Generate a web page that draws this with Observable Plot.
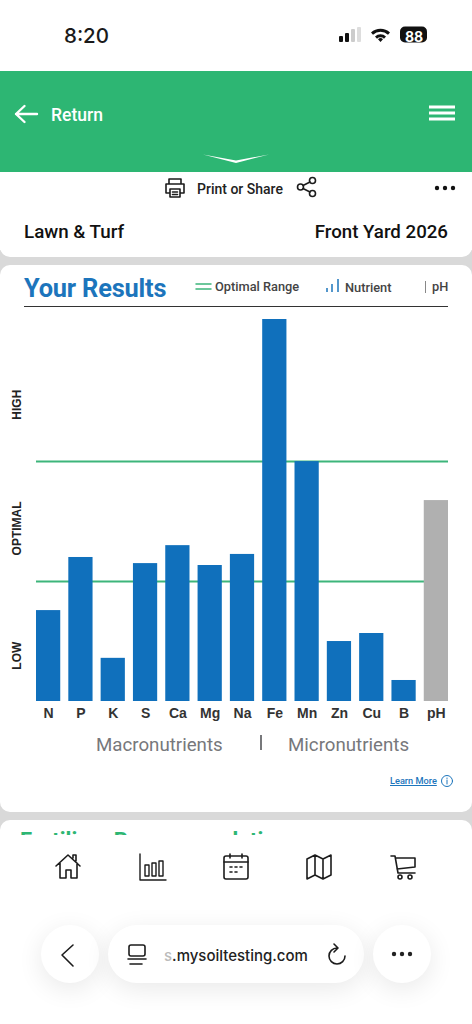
<!DOCTYPE html>
<html><head><meta charset="utf-8">
<script src="https://cdn.jsdelivr.net/npm/d3@7"></script>
<script src="https://cdn.jsdelivr.net/npm/@observablehq/plot@0.6"></script>
<style>
html,body{margin:0;padding:0;background:#fff;}
#page{position:relative;width:472px;height:1024px;overflow:hidden;background:#fff;font-family:Roboto,sans-serif;}
.b{position:absolute;}
.t{position:absolute;white-space:nowrap;line-height:1;}
svg.i{position:absolute;overflow:visible;fill:none;stroke:#1c1c1c;stroke-width:1.6;stroke-linecap:round;stroke-linejoin:round;}
#chart{position:absolute;left:0;top:310px;}
.pill{position:absolute;background:#fff;border-radius:29px;height:58px;top:925px;box-shadow:0 6px 26px rgba(0,0,0,.09);}
</style></head><body>
<div id="page">
  <div class="t" style="left:64px;top:23px;font:500 20.500px Inter,sans-serif;color:#1a1a1a">8:20</div>
  <svg class="i" style="left:338px;top:26px;stroke:none;fill:#111" width="90" height="18" viewBox="0 0 90 18">
    <rect x="1" y="10" width="4" height="6" rx="1"/><rect x="7" y="7" width="4" height="9" rx="1"/><rect x="13" y="3" width="4" height="13" rx="1" fill="#ccc"/><rect x="19" y="1" width="4" height="15" rx="1" fill="#ddd"/>
    <path d="M33 6.500a14 14 0 0 1 19 0l-2 2.200a11 11 0 0 0-15 0zM37 10.500a8 8 0 0 1 11 0l-2 2.200a5 5 0 0 0-7 0zM42.500 16l-2.500-2.800a3.500 3.500 0 0 1 5 0z"/>
    <rect x="62" y="0.500" width="27" height="16" rx="5"/>
  </svg>
  <div class="t" style="left:405px;top:28px;font:700 14px Inter,sans-serif;color:#fff">88</div>
  <div class="b" style="left:0;top:71px;width:472px;height:101px;background:#2DB673"></div>
  <svg class="i" style="left:14px;top:104px;stroke:#fff;stroke-width:2.400" width="24" height="20"><path d="M2 10H23M10.500 2L2 10l8.500 8"/></svg>
  <div class="t" style="left:51px;top:105px;font:500 17.500px Roboto,sans-serif;color:#fff">Return</div>
  <svg class="i" style="left:429px;top:105px;stroke:#fff;stroke-width:3;stroke-linecap:butt" width="26" height="16"><path d="M0 2H26M0 8H26M0 14H26"/></svg>
  <svg class="i" style="left:203px;top:153px;stroke:none;fill:#fff" width="66" height="12"><path d="M0 1.500L33 7.500 66 1.500 33 10z"/></svg>

  <div class="b" style="left:0;top:250px;width:472px;height:600px;background:#d9d9d9"></div>
  <div class="b" style="left:0;top:172px;width:472px;height:85px;background:#fff;border-radius:0 0 10px 10px"></div>
  <div class="b" style="left:0;top:265px;width:472px;height:547px;background:#fff;border-radius:10px"></div>
  <div class="b" style="left:0;top:820px;width:472px;height:204px;background:#fff;border-radius:10px 10px 0 0"></div>

  <svg class="i" style="left:164px;top:177px" width="22" height="22" viewBox="0 0 22 22"><path d="M5 7V2h12v5M5 16H2V7h18v9h-3M6 12h10v8H6zM8.500 15h5M8.500 17.500h5"/></svg>
  <div class="t" style="left:197px;top:181px;font:500 14px Roboto,sans-serif;color:#222">Print or Share</div>
  <svg class="i" style="left:296px;top:176px" width="22" height="22" viewBox="0 0 22 22"><circle cx="4.500" cy="11" r="3"/><circle cx="16.500" cy="4.500" r="3"/><circle cx="16.500" cy="17.500" r="3"/><path d="M7 9.500l7-3.500M7 12.500l7 3.500"/></svg>
  <svg class="i" style="left:433px;top:184px;stroke:none;fill:#111" width="24" height="8"><circle cx="4" cy="4" r="2.200"/><circle cx="12" cy="4" r="2.200"/><circle cx="20" cy="4" r="2.200"/></svg>
  <div class="t" style="left:24px;top:221px;font:500 18.800px Roboto,sans-serif;color:#111">Lawn &amp; Turf</div>
  <div class="t" style="right:24px;top:221px;font:500 18.700px Roboto,sans-serif;color:#111">Front Yard 2026</div>

  <div class="t" style="left:24px;top:273px;font:700 25.400px Roboto,sans-serif;color:#1C75BC;letter-spacing:-.2px">Your Results</div>
  <svg class="i" style="left:196px;top:283px;stroke:#3DB57B;stroke-width:1.500" width="16" height="8"><path d="M0 1H15M0 6H15"/></svg>
  <div class="t" style="left:215px;top:279px;font:500 12.800px Roboto,sans-serif;color:#444">Optimal Range</div>
  <svg class="i" style="left:326px;top:278px;stroke:#1C75BC;stroke-width:1.500;stroke-linecap:butt" width="14" height="16"><path d="M1 14V10M6 14V6M12 14V1"/></svg>
  <div class="t" style="left:345px;top:280px;font:500 12.800px Roboto,sans-serif;color:#444">Nutrient</div>
  <div class="b" style="left:425px;top:281px;width:1px;height:12px;background:#888"></div>
  <div class="t" style="left:432px;top:279px;font:500 12.800px Roboto,sans-serif;color:#444">pH</div>
  <div class="b" style="left:24px;top:306px;width:424px;height:1px;background:#333"></div>

  <div id="chart"></div>

  <div class="t" style="left:96px;top:734px;font:400 18.700px Roboto,sans-serif;color:#77787b">Macronutrients</div>
  <div class="b" style="left:260px;top:735px;width:2px;height:15px;background:#77787b"></div>
  <div class="t" style="left:288px;top:734px;font:400 18.700px Roboto,sans-serif;color:#77787b">Micronutrients</div>
  <div class="t" style="left:390px;top:775px;font:500 9.200px Roboto,sans-serif;color:#1C75BC;text-decoration:underline">Learn More</div>
  <svg class="i" style="left:441px;top:775px;stroke:#1C75BC;stroke-width:1" width="12" height="12"><circle cx="6" cy="6" r="5.500"/><path d="M6 5v4M6 3v.5"/></svg>

  <div class="b" style="left:0;top:820px;width:472px;height:15px;overflow:hidden">
    <div class="t" style="left:20px;top:8px;font:700 22px Roboto,sans-serif;color:#2DB673">Fertilizer Recommendations</div>
  </div>

  <svg class="i" style="left:54px;top:852px" width="28" height="28" viewBox="0 0 28 28"><path d="M2 14L14 3l12 11M6 11v15h6v-8h5v8h6V11M19 6V3h3v6"/></svg>
  <svg class="i" style="left:138px;top:852px;stroke-width:1.400" width="30" height="30" viewBox="0 0 30 30"><path d="M2 2v26h26M7 13h4v11H7zM14 11h4v13h-4zM21 9h4v15h-4z"/></svg>
  <svg class="i" style="left:222px;top:853px" width="28" height="28" viewBox="0 0 28 28"><rect x="2" y="3" width="24" height="23" rx="2"/><path d="M2 9h24M8 1v4M20 1v4M8 14h2M13 14h2M18 14h2M8 19h2M13 19h2"/></svg>
  <svg class="i" style="left:305px;top:853px" width="28" height="28" viewBox="0 0 28 28"><path d="M2 6l8-4 8 4 8-4v20l-8 4-8-4-8 4zM10 2v20M18 6v20"/></svg>
  <svg class="i" style="left:389px;top:853px" width="28" height="28" viewBox="0 0 28 28"><path d="M2 3h4l3 17h17M7 5h19v9l-18 2"/><circle cx="11" cy="24" r="2"/><circle cx="21" cy="24" r="2"/></svg>

  <div class="pill" style="left:41px;width:58px"></div>
  <div class="pill" style="left:108px;width:256px"></div>
  <div class="pill" style="left:373px;width:58px"></div>
  <svg class="i" style="left:60px;top:943px" width="16" height="24"><path d="M13 2L2 12l11 11"/></svg>
  <svg class="i" style="left:127px;top:943px" width="20" height="24" viewBox="0 0 20 24"><rect x="2" y="2" width="16" height="11" rx="2"/><path d="M1 16h18M3 21h12"/></svg>
  <div class="t" style="left:164px;top:946px;font:500 15px Inter,'Noto Sans',sans-serif;color:#222"><span style="color:#bbb">s</span>.mysoiltesting.com</div>
  <svg class="i" style="left:327px;top:943px" width="22" height="24" viewBox="0 0 22 24"><path d="M10 5A8 8 0 1 0 18 13M7 1l4 4-4 4"/></svg>
  <svg class="i" style="left:390px;top:950px;stroke:none;fill:#222" width="24" height="8"><circle cx="4" cy="4" r="2.200"/><circle cx="12" cy="4" r="2.200"/><circle cx="20" cy="4" r="2.200"/></svg>
</div>
<script>
const nutrients = ["N","P","K","S","Ca","Mg","Na","Fe","Mn","Zn","Cu","B","pH"];
const levels = [23.8,37.7,11.3,36.1,40.8,35.6,38.5,100,62.8,15.7,17.8,5.5,52.6];
const optimalBounds = [31.4,62.8];
const bandPositions = [12,45.3,77.7];
const bandLabels = ["LOW","OPTIMAL","HIGH"];
const rows = nutrients.map((n,i)=>({n,v:levels[i]}));
const chart = Plot.plot({
  width:472,height:420,
  marginLeft:36,marginRight:24,marginTop:9,marginBottom:29,
  style:{background:"transparent",overflow:"visible"},
  x:{domain:nutrients,paddingInner:0.25,paddingOuter:0,round:false,label:null},
  y:{domain:[0,100],label:null},
  marks:[
    Plot.ruleY(optimalBounds,{stroke:"#3DB57B",strokeWidth:2}),
    Plot.barY(rows,{x:"n",y:"v",fill:d=>d.n==="pH"?"#B0B0B0":"#1070BC"}),
    Plot.axisX({tickSize:0,tickPadding:7,fontSize:14,fontWeight:700,fontFamily:"Liberation Sans",fill:"#333",label:null}),
    Plot.axisY(bandPositions,{tickSize:0,tickPadding:16,tickRotate:-90,textAnchor:"middle",
      tickFormat:d=>bandLabels[bandPositions.indexOf(d)],fontSize:12,fontWeight:700,
      fontFamily:"Liberation Sans",fill:"#222",label:null})
  ]
});
document.getElementById("chart").appendChild(chart);
</script>
</body></html>
